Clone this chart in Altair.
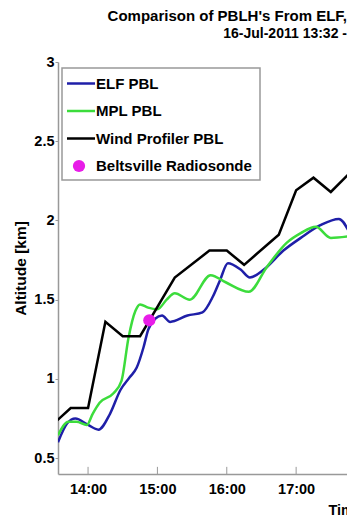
import altair as alt
import pandas as pd

DAY = "2011-07-16T"

# ELF PBL (blue)
elf_times = ["13:34", "13:42", "13:49", "14:00", "14:09", "14:19", "14:28", "14:36", "14:42",
             "14:48", "14:52", "14:58", "15:04", "15:11", "15:26", "15:39", "15:48", "15:54",
             "16:01", "16:12", "16:20", "16:32", "16:49", "17:04", "17:21", "17:37", "17:45"]
elf_vals = [0.60, 0.72, 0.75, 0.71, 0.68, 0.78, 0.93, 1.01, 1.07,
            1.20, 1.31, 1.38, 1.40, 1.36, 1.40, 1.42, 1.52, 1.62,
            1.73, 1.69, 1.64, 1.69, 1.81, 1.89, 1.97, 2.01, 1.94]

# MPL PBL (green)
mpl_times = ["13:34", "13:43", "13:50", "13:59", "14:04", "14:10", "14:22", "14:29", "14:35",
             "14:41", "14:45", "14:52", "15:00", "15:08", "15:15", "15:28", "15:46", "15:59",
             "16:19", "16:35", "16:52", "17:04", "17:17", "17:30", "17:45"]
mpl_vals = [0.645, 0.73, 0.73, 0.71, 0.78, 0.85, 0.91, 0.99, 1.26,
            1.43, 1.47, 1.45, 1.44, 1.50, 1.54, 1.50, 1.655, 1.61,
            1.55, 1.71, 1.86, 1.92, 1.96, 1.89, 1.90]

# Wind Profiler PBL (black)
wp_times = ["13:32", "13:45", "14:00", "14:15", "14:30", "14:45", "15:15", "15:45", "16:00",
            "16:15", "16:45", "17:00", "17:15", "17:30", "17:45"]
wp_vals = [0.73, 0.816, 0.816, 1.36, 1.27, 1.27, 1.64, 1.81, 1.81,
           1.72, 1.91, 2.19, 2.27, 2.18, 2.29]

# Beltsville Radiosonde
sonde_times = ["14:53"]
sonde_vals = [1.37]

tick_times = ["14:00", "15:00", "16:00", "17:00"]

names = ["ELF PBL", "MPL PBL", "Wind Profiler PBL", "Beltsville Radiosonde"]
kinds = ["line", "line", "line", "dot"]
colors = ["#1f1fa8", "#3cdc3c", "#000000", "#e81ce8"]

FONT = "Liberation Sans"


def frame(times, vals, name):
    return pd.DataFrame({"time": [DAY + t + ":00" for t in times], "alt": vals, "series": name})


elf = frame(elf_times, elf_vals, names[0])
mpl = frame(mpl_times, mpl_vals, names[1])
wp = frame(wp_times, wp_vals, names[2])
sonde = frame(sonde_times, sonde_vals, names[3])
ticks = pd.DataFrame({"time": [DAY + t + ":00" for t in tick_times]})
legend_df = pd.DataFrame({"series": names, "kind": kinds, "row": list(range(len(names)))})

xenc = alt.X(
    "time:T",
    scale=alt.Scale(domain=[alt.DateTime(year=2011, month=7, date=16, hours=13, minutes=34),
                            alt.DateTime(year=2011, month=7, date=16, hours=17, minutes=44)]),
    axis=alt.Axis(
        values=[alt.DateTime(year=2011, month=7, date=16, hours=h) for h in (14, 15, 16, 17)],
        format="%H:%M", ticks=False, labelPadding=8, grid=False,
        title="Time [UTC]", titleAnchor="start", titleX=270, titleY=40,
        titleBaseline="alphabetic", titleAlign="left",
    ),
)
yenc = alt.Y(
    "alt:Q",
    scale=alt.Scale(domain=[0.4, 3.0], nice=False, zero=False),
    axis=alt.Axis(values=[0.5, 1, 1.5, 2, 2.5, 3], format="~g", grid=False, tickSize=3,
                  labelPadding=1, title="Altitude [km]", titlePadding=5, titleFontSize=15.5),
)

color = alt.Color("series:N", scale=alt.Scale(domain=names, range=colors), legend=None)

base_line = dict(strokeWidth=2.5, clip=True)
elf_line = alt.Chart(elf).mark_line(interpolate="monotone", **base_line).encode(x=xenc, y=yenc, color=color)
mpl_line = alt.Chart(mpl).mark_line(interpolate="monotone", **base_line).encode(x=xenc, y=yenc, color=color)
wp_line = alt.Chart(wp).mark_line(interpolate="linear", **base_line).encode(x=xenc, y=yenc, color=color)
sonde_pt = alt.Chart(sonde).mark_circle(size=150, opacity=1, clip=True).encode(x=xenc, y=yenc, color=color)
tick_marks = alt.Chart(ticks).mark_rule(color="#999", strokeWidth=1).encode(
    x="time:T", y=alt.datum(0.4), y2=alt.datum(0.445)
)

# legend drawn as marks (row positions derived from row index)
leg = alt.Chart(legend_df).transform_calculate(ly="21.5 + datum.row * 27.5")
leg_box = alt.Chart(legend_df).mark_rect(fill="white", stroke="#999", strokeWidth=1.5).encode(
    x=alt.value(4), x2=alt.value(202), y=alt.value(6), y2=alt.value(118)
).transform_filter("datum.row === 0")
leg_lines = leg.mark_rule(strokeWidth=2.5).encode(
    x=alt.value(9), x2=alt.value(37), y=alt.Y("ly:Q", scale=None), color=color
).transform_filter("datum.kind === 'line'")
leg_dot = leg.mark_circle(size=150, opacity=1).encode(
    x=alt.value(21), y=alt.Y("ly:Q", scale=None), color=color
).transform_filter("datum.kind === 'dot'")
leg_text = leg.mark_text(align="left", baseline="middle", font=FONT, fontSize=15,
                         fontWeight="bold", color="#000").encode(
    x=alt.value(38), y=alt.Y("ly:Q", scale=None), text="series:N"
)

chart = alt.layer(tick_marks, elf_line, mpl_line, wp_line, sonde_pt,
                  leg_box, leg_lines, leg_dot, leg_text).properties(
    width=289,
    height=412,
    autosize=alt.AutoSizeParams(type="none"),
    padding={"left": 58, "top": 62, "right": 0, "bottom": 43},
    title=alt.TitleParams(
        text="Comparison of PBLH's From ELF,",
        subtitle="16-Jul-2011 13:32 -",
        anchor="end", frame="group", font=FONT, fontSize=15, fontWeight="bold", color="#000",
        subtitleFont=FONT, subtitleFontSize=14, subtitleFontWeight="bold", subtitleColor="#000",
        subtitlePadding=3, offset=13,
    ),
    background="white",
).configure_view(stroke=None).configure_axis(
    labelFont=FONT, labelFontSize=14.5, labelFontWeight="bold", labelColor="#000",
    titleFont=FONT, titleFontSize=14.5, titleFontWeight="bold", titleColor="#000",
    domainColor="#999", tickColor="#999", domainWidth=1.5,
)

chart.save("out.html", embed_options={"renderer": "svg", "actions": False})
